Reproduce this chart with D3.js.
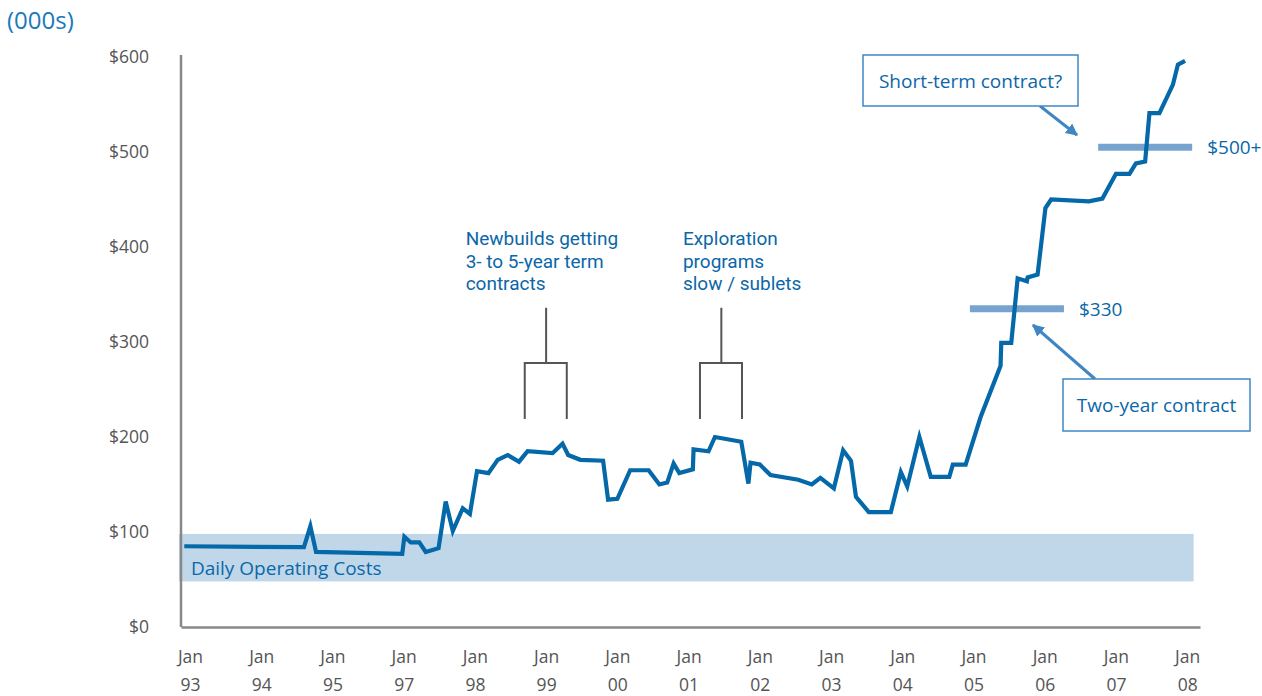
<!DOCTYPE html>
<html>
<head>
<meta charset="utf-8">
<script src="https://cdn.jsdelivr.net/npm/d3@7"></script>
<style>
  body { margin: 0; background: #fff; }
  text { font-family: "Open Sans", "Noto Sans", sans-serif; }
</style>
</head>
<body>
<div id="chart"></div>
<script>
// x positions are in "axis slots": 0 = Jan 93, 1 = Jan 94 ... (no Jan 96 slot)
const xMonth = ["Jan","Jan","Jan","Jan","Jan","Jan","Jan","Jan","Jan","Jan","Jan","Jan","Jan","Jan","Jan"];
const xYear  = ["93","94","95","97","98","99","00","01","02","03","04","05","06","07","08"];
const yTicks = [0, 100, 200, 300, 400, 500, 600];

const rateX = [-0.08, 1.60, 1.69, 1.77, 2.98, 3.01, 3.10, 3.22, 3.31, 3.49, 3.59, 3.69, 3.83, 3.93,
               4.03, 4.19, 4.32, 4.46, 4.62, 4.74, 5.09, 5.23, 5.31, 5.48, 5.80, 5.87, 6.00, 6.18,
               6.44, 6.59, 6.70, 6.79, 6.87, 7.06, 7.07, 7.28, 7.37, 7.74, 7.84, 7.87, 8.00, 8.15,
               8.54, 8.73, 8.85, 9.04, 9.17, 9.28, 9.35, 9.53, 9.84, 9.98, 10.07, 10.24, 10.40,
               10.66, 10.71, 10.89, 11.10, 11.38, 11.39, 11.53, 11.62, 11.75, 11.76, 11.90, 12.01,
               12.09, 12.62, 12.81, 13.00, 13.19, 13.28, 13.41, 13.47, 13.61, 13.80, 13.87, 13.97];
const rateY = [85, 84, 106, 79, 77, 95, 89, 89, 79, 83, 132, 101, 125, 119,
               164, 162, 176, 181, 174, 185, 183, 193, 181, 176, 175, 134, 135, 165,
               165, 150, 152, 172, 162, 166, 187, 185, 200, 195, 151, 173, 171, 160,
               155, 150, 157, 146, 186, 175, 137, 121, 121, 163, 148, 200, 158,
               158, 171, 171, 221, 275, 299, 299, 367, 364, 368, 371, 441,
               450, 448, 451, 477, 477, 488, 490, 541, 541, 571, 592, 596];

// daily operating costs band
const costBand = {x0: -0.155, x1: 14.09, low: 48, high: 98};

// contract level markers
const levels = [
    {x0: 10.95, x1: 12.27, value: 335, label: "$330"},
    {x0: 12.75, x1: 14.07, value: 505, label: "$500+"}
];

// bracket annotations
const brackets = [
    {x0: 4.70, x1: 5.29, stem: 5.00, lines: ["Newbuilds getting", "3- to 5-year term", "contracts"], tx: 3.87},
    {x0: 7.16, x1: 7.75, stem: 7.46, lines: ["Exploration", "programs", "slow / sublets"], tx: 6.92}
];

const width = 1262, height = 696;
const blue = "#0a67a8", barBlue = "#77a3cf", boxBlue = "#3f87c4", grey = "#555555";
const labelSize = "19px", tickSize = "17.5px";

const svg = d3.select("#chart").append("svg")
    .attr("width", width)
    .attr("height", height);

// scales
const xScale = d3.scaleLinear().domain([-0.126, 14.18]).range([181, 1200]);
const yScale = d3.scaleLinear().domain([0, 600]).range([627, 57]);

// band
svg.append("rect")
    .attr("x", xScale(costBand.x0))
    .attr("y", yScale(costBand.high))
    .attr("width", xScale(costBand.x1) - xScale(costBand.x0))
    .attr("height", yScale(costBand.low) - yScale(costBand.high))
    .attr("fill", "#c0d7ea");

svg.append("text")
    .attr("x", xScale(costBand.x0) + 12)
    .attr("y", yScale(costBand.low) - 6)
    .attr("fill", blue)
    .style("font-size", labelSize)
    .text("Daily Operating Costs");

// axes
const xAxis = d3.axisBottom(xScale)
    .tickValues(d3.range(xYear.length))
    .tickSize(0)
    .tickPadding(0)
    .tickFormat(i => xMonth[i]);
const gx = svg.append("g")
    .attr("class", "x-axis")
    .attr("transform", "translate(0," + yScale(0) + ")")
    .call(xAxis);
gx.select(".domain").attr("stroke", "#888").attr("stroke-width", 2.5);
gx.selectAll(".tick text").each(function(i) {
    const t = d3.select(this);
    t.text(null).attr("y", 36).attr("dy", null)
        .attr("fill", grey).style("font-size", tickSize).style("font-family", "'Open Sans', sans-serif");
    t.append("tspan").attr("x", 0).attr("y", 36).text(xMonth[i]);
    t.append("tspan").attr("x", 0).attr("y", 64).text(xYear[i]);
});

const yAxis = d3.axisLeft(yScale)
    .tickValues(yTicks)
    .tickSize(0)
    .tickPadding(32)
    .tickFormat(d => "$" + d);
const gy = svg.append("g")
    .attr("class", "y-axis")
    .attr("transform", "translate(" + xScale.range()[0] + ",0)")
    .call(yAxis);
gy.select(".domain").attr("stroke", "#888").attr("stroke-width", 2.5)
    .attr("d", "M0," + (yScale(600) - 2) + "V" + yScale(0));
gy.selectAll(".tick text")
    .attr("fill", grey)
    .style("font-size", tickSize)
    .style("font-family", "'Open Sans', sans-serif");

svg.append("text")
    .attr("x", 7)
    .attr("y", 29)
    .attr("fill", "#1a78bd")
    .style("font-size", "24px")
    .text("(000s)");

// level bars
svg.selectAll(".level")
    .data(levels)
    .enter().append("line")
    .attr("class", "level")
    .attr("x1", d => xScale(d.x0))
    .attr("x2", d => xScale(d.x1))
    .attr("y1", d => yScale(d.value))
    .attr("y2", d => yScale(d.value))
    .attr("stroke", barBlue)
    .attr("stroke-width", 7);

svg.selectAll(".level-label")
    .data(levels)
    .enter().append("text")
    .attr("class", "level-label")
    .attr("x", d => xScale(d.x1) + 15)
    .attr("y", d => yScale(d.value) + 7)
    .attr("fill", blue)
    .style("font-size", labelSize)
    .text(d => d.label);

// line
const line = d3.line()
    .x(d => xScale(d[0]))
    .y(d => yScale(d[1]));
svg.append("path")
    .datum(rateX.map((x, i) => [x, rateY[i]]))
    .attr("d", line)
    .attr("fill", "none")
    .attr("stroke", "#0568a9")
    .attr("stroke-width", 4.2)
    .attr("stroke-linejoin", "miter");

// brackets (annotation lines as separate texts, tighter-leading font)
brackets.forEach(function(b) {
    const g = svg.append("g").attr("class", "bracket");
    g.append("path")
        .attr("d", "M" + xScale(b.stem) + "," + yScale(336) + "V" + yScale(278) +
            "M" + xScale(b.x0) + "," + yScale(219) + "V" + yScale(278) + "H" + xScale(b.x1) + "V" + yScale(219))
        .attr("fill", "none")
        .attr("stroke", grey)
        .attr("stroke-width", 2);
    b.lines.forEach(function(s, k) {
        g.append("text")
            .attr("x", xScale(b.tx))
            .attr("y", yScale(402) + 22.5 * k)
            .attr("fill", blue)
            .style("font-family", "Roboto, 'Open Sans', sans-serif")
            .style("font-size", "19px")
            .text(s);
    });
});

// callouts
svg.append("defs").append("marker")
    .attr("id", "arrow")
    .attr("viewBox", "0 0 10 10")
    .attr("refX", 9).attr("refY", 5)
    .attr("markerWidth", 4).attr("markerHeight", 4)
    .attr("orient", "auto")
    .append("path")
    .attr("d", "M0,0L10,5L0,10z")
    .attr("fill", boxBlue);

const callouts = [
    {x: 863, y: 55, w: 215, h: 51, text: "Short-term contract?", from: [1040, 106], to: [1077, 135]},
    {x: 1063, y: 379, w: 187, h: 52, text: "Two-year contract", from: [1095, 379], to: [1033, 325]}
];
callouts.forEach(function(c) {
    svg.append("line")
        .attr("x1", c.from[0]).attr("y1", c.from[1])
        .attr("x2", c.to[0]).attr("y2", c.to[1])
        .attr("stroke", boxBlue)
        .attr("stroke-width", 3)
        .attr("marker-end", "url(#arrow)");
    svg.append("rect")
        .attr("x", c.x).attr("y", c.y)
        .attr("width", c.w).attr("height", c.h)
        .attr("fill", "#fff")
        .attr("stroke", boxBlue)
        .attr("stroke-width", 1.5);
    svg.append("text")
        .attr("x", c.x + c.w / 2)
        .attr("y", c.y + c.h / 2 + 7)
        .attr("text-anchor", "middle")
        .attr("fill", blue)
        .style("font-size", labelSize)
        .text(c.text);
});
</script>
</body>
</html>
